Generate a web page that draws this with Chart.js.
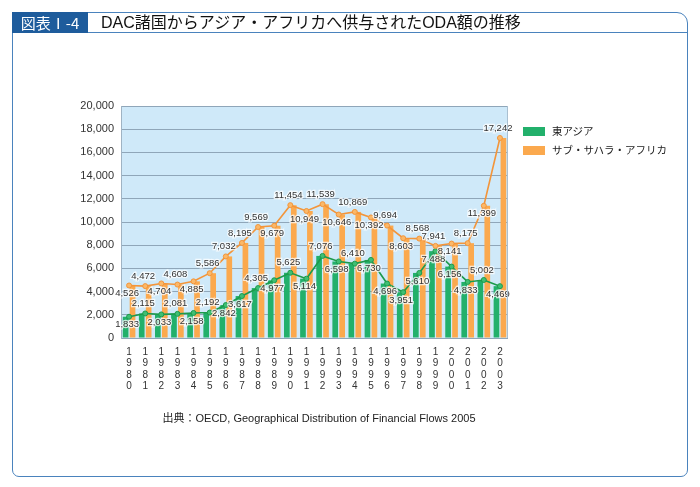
<!DOCTYPE html>
<html><head><meta charset="utf-8">
<script src="https://cdn.jsdelivr.net/npm/chart.js@4"></script>
<style>
body{margin:0;width:700px;height:487px;position:relative;background:#fff;overflow:hidden;font-family:"Liberation Sans","Noto Sans CJK JP",sans-serif;color:#222}
canvas{position:absolute;left:0;top:0}
#frame{position:absolute;left:12px;top:12px;width:676px;height:465px;border:1.5px solid #4a83bd;border-radius:0 11px 7px 7px;box-sizing:border-box}
#tbar{position:absolute;left:12px;top:12px;width:676px;height:21px;border-bottom:1.5px solid #4a83bd;box-sizing:border-box}
#tbox{position:absolute;left:12px;top:12px;width:76px;height:21px;background:#1e5c9c;color:#fff;font-family:"Noto Sans CJK JP";font-size:15px;line-height:21px;text-align:center}
#title{position:absolute;left:101px;top:12px;height:21px;line-height:21px;font-family:"Liberation Sans","Noto Sans CJK JP";font-size:16px;color:#111;white-space:nowrap}
.lg{position:absolute;left:523px;width:22px;height:9px}
.lt{position:absolute;left:552px;font-family:"Noto Sans CJK JP";font-size:10.5px;line-height:12px;white-space:nowrap;color:#222}
#src{position:absolute;left:0;width:638px;text-align:center;top:411px;font-size:11px;line-height:14px;white-space:nowrap;color:#222}
</style></head>
<body>
<canvas id="c" width="700" height="487"></canvas>
<div id="frame"></div>
<div id="tbar"></div>
<div id="tbox">図表Ⅰ-4</div>
<div id="title">DAC諸国からアジア・アフリカへ供与されたODA額の推移</div>
<div class="lg" style="top:127px;background:#22b06b"></div>
<div class="lt" style="top:125px">東アジア</div>
<div class="lg" style="top:146px;background:#fba94e"></div>
<div class="lt" style="top:144px">サブ・サハラ・アフリカ</div>
<div id="src">出典：OECD, Geographical Distribution of Financial Flows 2005</div>
<script>
const years = [1980,1981,1982,1983,1984,1985,1986,1987,1988,1989,1990,1991,1992,1993,1994,1995,1996,1997,1998,1999,2000,2001,2002,2003];
const eastAsia = [1833,2115,2033,2081,2158,2192,2842,3617,4305,4977,5625,5114,7076,6598,6410,6730,4696,3951,5610,7488,6156,4833,5002,4469];
const subSaharan = [4526,4472,4704,4608,4885,5586,7032,8195,9569,9679,11454,10949,11539,10646,10869,10392,9694,8603,8568,7941,8141,8175,11399,17242];
const yTickValues = [0,2000,4000,6000,8000,10000,12000,14000,16000,18000,20000];
const seriesNames = ['東アジア','サブ・サハラ・アフリカ'];
// label placement (a = above point, b = below point)
const placeEast = ['b','a','b','a','b','a','b','b','a','b','a','b','a','b','a','b','b','b','b','b','b','b','a','b'];
const placeSub  = ['b','a','b','a','b','a','a','a','a','b','a','b','a','b','a','b','a','b','a','a','b','a','b','a'];

const FONT = '"Liberation Sans","Noto Sans CJK JP",sans-serif';
const fmt = v => v.toLocaleString('en-US');

const bgPlugin = {
  id:'bg',
  beforeDraw(chart){
    const {ctx, chartArea:a} = chart;
    ctx.save();
    ctx.fillStyle = '#cfe9f9';
    ctx.fillRect(a.left, a.top, a.right-a.left, a.bottom-a.top);
    ctx.restore();
  },
  afterDraw(chart){
    const {ctx, chartArea:a} = chart;
    ctx.save();
    ctx.strokeStyle = '#a9bfd0';
    ctx.lineWidth = 1;
    ctx.beginPath();
    ctx.moveTo(a.right-0.5, a.top); ctx.lineTo(a.right-0.5, a.bottom);
    ctx.stroke();
    ctx.restore();
  }
};

const labelPlugin = {
  id:'vals',
  afterDatasetsDraw(chart){
    const ctx = chart.ctx;
    ctx.save();
    ctx.font = '9.5px ' + FONT;
    ctx.textAlign = 'center';
    ctx.textBaseline = 'middle';
    [[2, eastAsia, placeEast],[3, subSaharan, placeSub]].forEach(([di, vals, pl]) => {
      const meta = chart.getDatasetMeta(di);
      meta.data.forEach((pt, i) => {
        const y = pl[i] === 'a' ? pt.y - 10 : pt.y + 8;
        const x = pt.x - 2;
        const t = fmt(vals[i]);
        ctx.lineWidth = 2.5;
        ctx.strokeStyle = 'rgba(255,255,255,0.75)';
        ctx.strokeText(t, x, y);
        ctx.fillStyle = '#333';
        ctx.fillText(t, x, y);
      });
    });
    ctx.restore();
  }
};

new Chart(document.getElementById('c'), {
  type:'bar',
  data:{
    labels: years.map(y => String(y).split('')),
    datasets:[
      {label:seriesNames[0], data:eastAsia, backgroundColor:'#22b06b', order:2, categoryPercentage:0.86, barPercentage:0.82},
      {label:seriesNames[1], data:subSaharan, backgroundColor:'#fba94e', order:2, categoryPercentage:0.86, barPercentage:0.82},
      {type:'line', label:seriesNames[0], data:eastAsia, borderColor:'#1c9a4b', backgroundColor:'#3fbf73', borderWidth:1.6, pointRadius:2.5, pointBorderWidth:1, pointBorderColor:'#1c9a4b', order:1, tension:0},
      {type:'line', label:seriesNames[1], data:subSaharan, borderColor:'#f3953a', backgroundColor:'#fbb868', borderWidth:1.6, pointRadius:2.5, pointBorderWidth:1, pointBorderColor:'#f3953a', order:0, tension:0}
    ]
  },
  options:{
    responsive:false,
    animation:false,
    layout:{padding:{left:0, right:192, top:106, bottom:89}},
    plugins:{legend:{display:false}, tooltip:{enabled:false}},
    scales:{
      x:{
        grid:{display:false, drawTicks:false},
        border:{display:false},
        ticks:{font:{size:10, family:FONT, lineHeight:1.15}, color:'#333', padding:8, maxRotation:0, minRotation:0, autoSkip:false},
        afterFit(s){ s.height = 60; }
      },
      y:{
        min:0, max:20000,
        afterBuildTicks(s){ s.ticks = yTickValues.map(v => ({value:v})); },
        ticks:{callback:v => fmt(v), font:{size:11, family:FONT}, color:'#333', padding:7},
        grid:{color:'#8fa6b9', lineWidth:1, drawTicks:false},
        border:{display:true, color:'#9fb3c3'},
        afterFit(s){ s.width = 121; }
      }
    }
  },
  plugins:[bgPlugin, labelPlugin]
});
</script>
</body></html>
